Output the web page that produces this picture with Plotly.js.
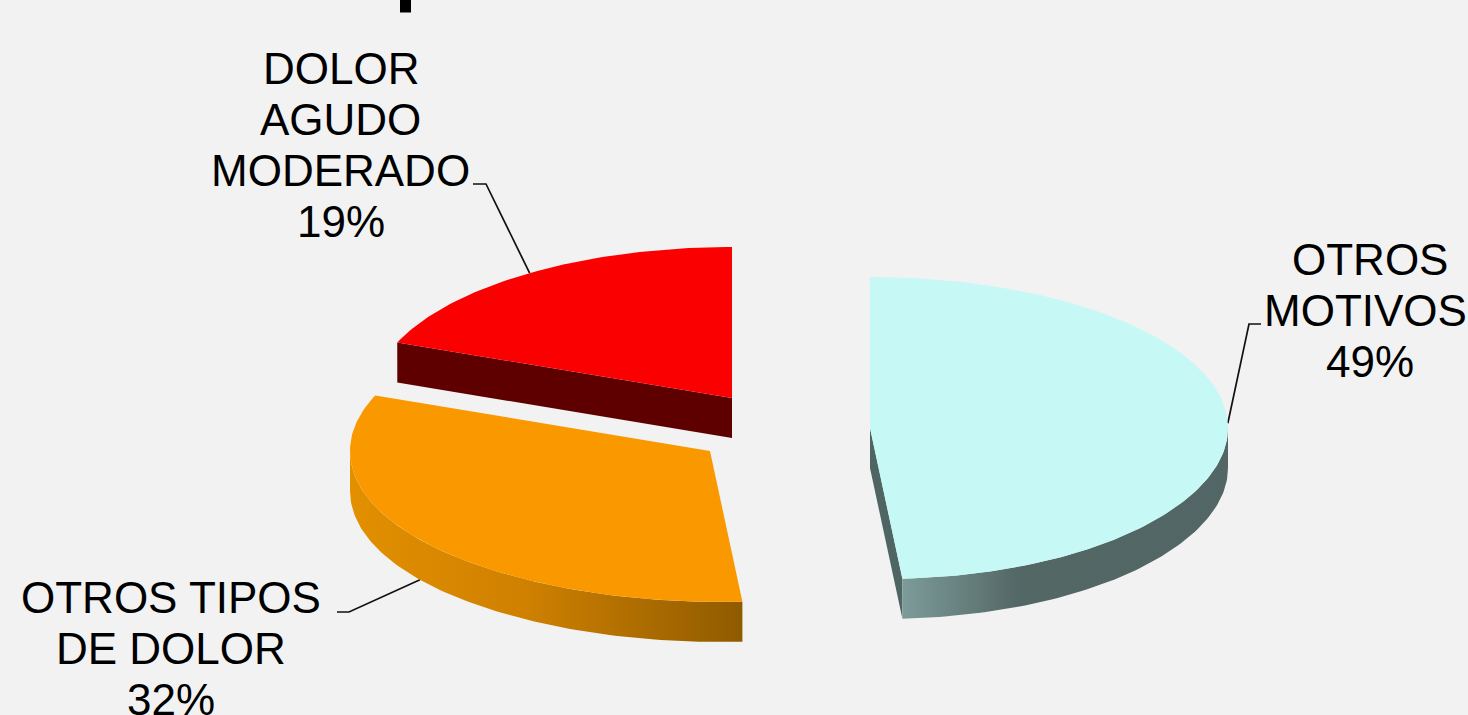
<!DOCTYPE html>
<html>
<head>
<meta charset="utf-8">
<script src="https://cdn.plot.ly/plotly-3.0.1.min.js"></script>
<style>html,body{margin:0;padding:0;background:#f2f2f2;overflow:hidden}</style>
</head>
<body>
<div id="chart" style="width:1468px;height:715px"></div>
<script>
// Share of consultations by reason, in percent
const categories = ["OTROS MOTIVOS", "OTROS TIPOS DE DOLOR", "DOLOR AGUDO MODERADO"];
const shares = [49, 32, 19];
const labelLines = [
  ["OTROS", "MOTIVOS", "49%"],
  ["OTROS TIPOS", "DE DOLOR", "32%"],
  ["DOLOR", "AGUDO", "MODERADO", "19%"]
];

// Look of each slice
const topColors = ["#c6f8f6", "#fa9800", "#fb0000"];
const radialWallColors = ["#4f6564", "#a86a00", "#5f0000"];
const outerWallScales = [
  [[0, "#7c9b99"], [0.36, "#536765"], [1, "#526665"]],
  [[0, "#e29000"], [0.45, "#cf8000"], [1, "#8f5b00"]],
  [[0, "#5f0000"], [1, "#5f0000"]]
];

// Exploded centres of the disc pieces, and the projected disc itself
const centres = [[870, 428], [710, 451], [732, 398]];
const radiusXRight = 358, radiusXLeft = 360, radiusY = 151, depth = 40;
const frontSkew = 10;   // near rim leans slightly to the right under perspective

// Label line centres and leader elbows
const labelCentreX = [1369.5, 171, 340.5];
const labelFirstY = [259, 597, 68];
const lineStep = 51.2;
const lineNudgeX = [[0, -4.5, 0], [0, 0, 0], [0, 0, 0, 0]];
const leaderElbows = [
  [[1261, 324], [1249, 324]],
  [[337, 612], [349, 612]],
  [[473, 184], [486, 184]]
];

const rad = d => d * Math.PI / 180;

function rim(centre, deg, drop) {
  const c = Math.cos(rad(deg)), s = Math.sin(rad(deg));
  const lean = c < 0 ? frontSkew * Math.pow(-c, 4) : 0;
  const rx = s < 0 ? radiusXLeft : radiusXRight;
  return [centre[0] + rx * s + lean, centre[1] - radiusY * c + drop];
}

function polygon(points, extra) {
  return Object.assign({
    x: points.map(p => p[0]), y: points.map(p => p[1]),
    type: "scatter", mode: "lines", fill: "toself",
    line: {width: 0}, hoverinfo: "skip", showlegend: false
  }, extra);
}

function arc(centre, from, to, drop) {
  const pts = [];
  const n = Math.max(2, Math.ceil(Math.abs(to - from)));
  for (let i = 0; i <= n; i++) pts.push(rim(centre, from + (to - from) * i / n, drop));
  return pts;
}

const total = shares.reduce((a, b) => a + b, 0);
const wallTraces = [], topTraces = [], leaderTraces = [], annotations = [];
let cursor = 0;

shares.forEach((share, i) => {
  const start = cursor, end = cursor + share / total * 360;
  cursor = end;
  const c = centres[i];

  // Cut faces that turn towards the viewer
  [[start, start - 90], [end, end + 90]].forEach(([edge, normal]) => {
    if (Math.cos(rad(normal)) < -0.01) {
      const outer = rim(c, edge, 0), outerLow = rim(c, edge, depth);
      wallTraces.push(polygon([c, outer, outerLow, [c[0], c[1] + depth]],
        {fillcolor: radialWallColors[i]}));
    }
  });

  // Visible part of the outer rim wall
  const a = Math.max(start, 90), b = Math.min(end, 270);
  if (b > a) {
    const upper = arc(c, a, b, 0), lower = arc(c, a, b, depth).reverse();
    wallTraces.push(polygon(upper.concat(lower), {
      fillgradient: {type: "horizontal", colorscale: outerWallScales[i]}
    }));
  }

  // Top face
  topTraces.push(polygon([c].concat(arc(c, start, end, 0)), {
    fillcolor: topColors[i], name: categories[i]
  }));

  // Leader from the label to the rim at the slice's middle angle
  const mid = (start + end) / 2;
  const anchor = rim(c, mid, Math.cos(rad(mid)) < 0 && Math.sin(rad(mid)) < 0 ? depth : 0);
  const path = leaderElbows[i].concat([anchor]);
  leaderTraces.push({
    x: path.map(p => p[0]), y: path.map(p => p[1]),
    type: "scatter", mode: "lines",
    line: {color: "#111111", width: 1.7}, hoverinfo: "skip", showlegend: false
  });

  labelLines[i].forEach((line, k) => {
    annotations.push({
      x: labelCentreX[i] + lineNudgeX[i][k], y: labelFirstY[i] + k * lineStep,
      xref: "x", yref: "y", xanchor: "center", yanchor: "middle",
      text: line, showarrow: false,
      font: {family: "Liberation Sans, Arial, sans-serif", size: 44, color: "#000000"}
    });
  });
});

const layout = {
  width: 1468, height: 715,
  margin: {l: 0, r: 0, t: 0, b: 0},
  paper_bgcolor: "#f2f2f2", plot_bgcolor: "#f2f2f2",
  showlegend: false,
  xaxis: {range: [0, 1468], visible: false, fixedrange: true},
  yaxis: {range: [715, 0], visible: false, fixedrange: true},
  annotations: annotations,
  shapes: [{
    type: "rect", xref: "x", yref: "y",
    x0: 400, x1: 411, y0: 0, y1: 12.5,
    fillcolor: "#000000", line: {width: 0}
  }]
};

Plotly.newPlot("chart", leaderTraces.concat(wallTraces, topTraces), layout,
  {displayModeBar: false, staticPlot: true});
</script>
</body>
</html>
